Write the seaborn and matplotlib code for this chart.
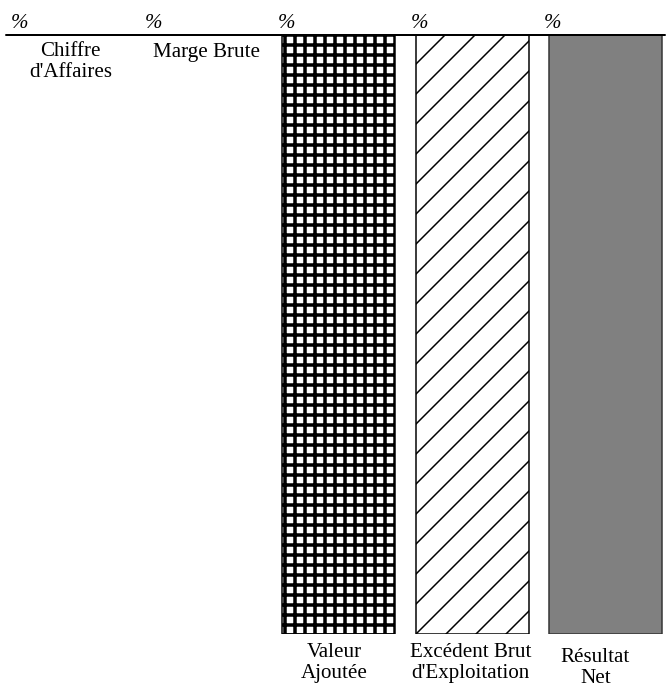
import matplotlib
matplotlib.use('Agg')
import matplotlib.pyplot as plt
import seaborn as sns

# Data: share of each aggregate (all bars are 100 %, the first two are empty)
categories = ["Chiffre\nd'Affaires", "Marge Brute", "Valeur\nAjoutée",
              "Excédent Brut\nd'Exploitation", "Résultat\nNet"]
values = [0, 0, 100, 100, 100]
unit_labels = ['%', '%', '%', '%', '%']

# Styles
hatches = ['', '', '+++', '//', '']
fills = ['white', 'white', 'white', 'white', '#808080']
edges = ['black', 'black', 'black', 'black', '#333333']
hatch_lw = [1.0, 1.0, 1.4, 0.6, 1.0]

DPI = 180          # hatch density scales with dpi
px = 72 / DPI      # points per pixel

sns.set_style('white')
plt.rcParams['font.family'] = ['Liberation Serif', 'DejaVu Serif']
plt.rcParams['text.color'] = 'black'

fig = plt.figure(figsize=(666 / DPI, 687 / DPI), dpi=DPI)
ax = fig.add_axes([0, 1 - 634 / 687, 1, 599 / 687])

sns.barplot(x=categories, y=values, color='white', width=0.848,
            edgecolor='black', linewidth=1.5 * px, saturation=1, ax=ax)

for p, h, fc, ec, hl in zip(ax.patches, hatches, fills, edges, hatch_lw):
    p.set_facecolor(fc)
    p.set_edgecolor(ec)
    p.set_hatch(h)
    if hasattr(p, 'set_hatch_linewidth'):
        p.set_hatch_linewidth(hl)

ax.set_xlim(-0.544, 4.454)
ax.set_ylim(100, 0)
ax.axis('off')

# top rule
ax.axhline(0, 6 / 666, 665 / 666, color='black', lw=2 * px, zorder=5, clip_on=False)

# category labels below each bar end
label_gap_px = [7, 8, 9, 9, 14]
label_dx_px = [-2, 1, -5, -2, -10]
for i, (lab, v) in enumerate(zip(categories, values)):
    ax.annotate(lab, xy=(i, v), xytext=(label_dx_px[i] * px, -label_gap_px[i] * px),
                textcoords='offset points', ha='center', va='top', color='black',
                fontsize=8.4, linespacing=1.12, annotation_clip=False)

# "%" unit marks above the rule
for i, u in enumerate(unit_labels):
    ax.annotate(u, xy=(i - 0.46, 0), xytext=(0, 7 * px), textcoords='offset points',
                ha='left', va='baseline', style='italic', fontsize=8.4, color='black',
                annotation_clip=False)

fig.savefig('out.png', dpi=DPI)
